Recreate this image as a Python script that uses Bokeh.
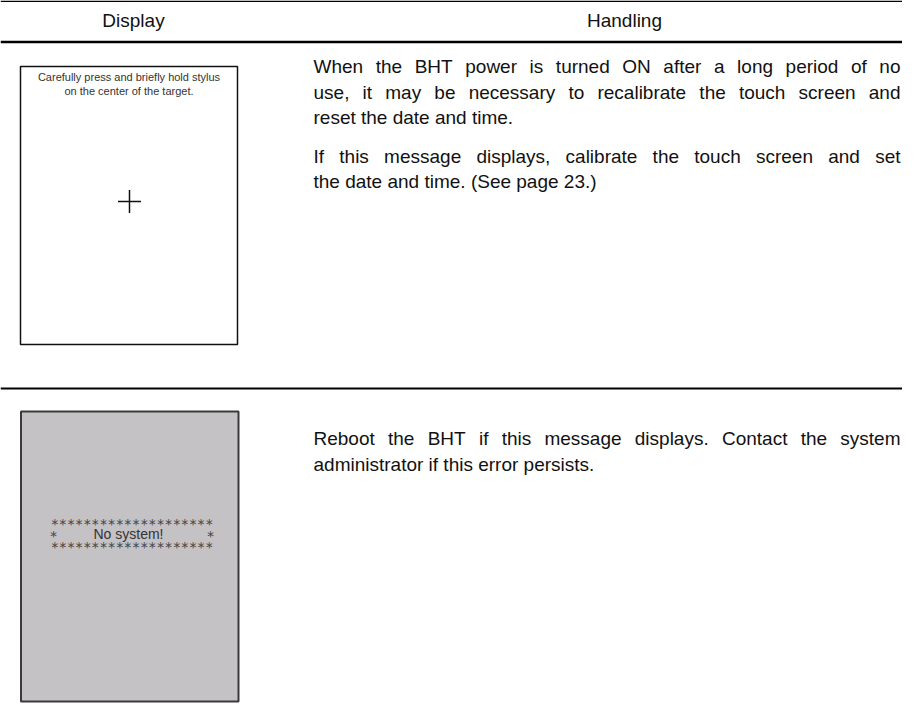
from bokeh.plotting import figure
from bokeh.models import Range1d
from bokeh.core.properties import value
from bokeh.embed import file_html
from bokeh.resources import INLINE

# ---- content ----
headers = ["Display", "Handling"]
para_row1 = [
    ["When the BHT power is turned ON after a long period of no",
     "use, it may be necessary to recalibrate the touch screen and",
     "reset the date and time."],
    ["If this message displays, calibrate the touch screen and set",
     "the date and time. (See page 23.)"],
]
para_row2 = [
    ["Reboot the BHT if this message displays. Contact the system",
     "administrator if this error persists."],
]
screen1_lines = ["Carefully press and briefly hold stylus",
                 "on the center of the target."]
stars_row = "*" * 20
screen2_msg = "No system!"

# ---- layout (picture pixel coordinates) ----
BODY_FONT = "Liberation Sans"
BODY_SIZE = 19
LEFT, RIGHT = 313, 900
LINE_H = 25.5
PARA_GAP = 13

# Arial / Liberation Sans advance widths (1/1000 em)
W = {' ': 278, '!': 278, '(': 333, ')': 333, ',': 278, '.': 278, '?': 556,
     'A': 667, 'B': 667, 'C': 722, 'D': 722, 'E': 667, 'F': 611, 'G': 778, 'H': 722,
     'I': 278, 'J': 500, 'K': 667, 'L': 556, 'M': 833, 'N': 722, 'O': 778, 'P': 667,
     'Q': 778, 'R': 722, 'S': 667, 'T': 611, 'U': 722, 'V': 667, 'W': 944, 'X': 667,
     'Y': 667, 'Z': 611,
     'a': 556, 'b': 556, 'c': 500, 'd': 556, 'e': 556, 'f': 278, 'g': 556, 'h': 556,
     'i': 222, 'j': 222, 'k': 500, 'l': 222, 'm': 833, 'n': 556, 'o': 556, 'p': 556,
     'q': 556, 'r': 333, 's': 500, 't': 278, 'u': 556, 'v': 500, 'w': 722, 'x': 500,
     'y': 500, 'z': 500}
for d in "0123456789":
    W[d] = 556


def tw(s, size):
    return sum(W.get(c, 556) for c in s) * size / 1000.0


def layout_paragraphs(paras, y0, xs, ys, ws):
    y = y0
    for para in paras:
        for i, line in enumerate(para):
            words = line.split(" ")
            last = (i == len(para) - 1)
            widths = [tw(w, BODY_SIZE) for w in words]
            if last or len(words) == 1:
                gap = tw(" ", BODY_SIZE)
            else:
                gap = (RIGHT - LEFT - sum(widths)) / (len(words) - 1)
            x = LEFT
            for w, wd in zip(words, widths):
                xs.append(x); ys.append(y); ws.append(w)
                x += wd + gap
            y += LINE_H
        y += PARA_GAP
    return y


p = figure(width=902, height=708, x_range=Range1d(0, 902), y_range=Range1d(708, 0),
           output_backend="svg", toolbar_location=None, min_border=0,
           background_fill_color="white", border_fill_color="white")
p.axis.visible = False
p.grid.visible = False
p.outline_line_color = None

# rules
p.segment(x0=[0], y0=[0.8], x1=[902], y1=[0.8], line_color="black", line_width=1.5)
p.segment(x0=[0], y0=[41.5], x1=[902], y1=[41.5], line_color="black", line_width=2.5)
p.segment(x0=[0], y0=[388], x1=[902], y1=[388], line_color="black", line_width=2)

# headers
p.text(x=[133, 624], y=[20, 20], text=headers, text_font=value(BODY_FONT),
       text_font_size=f"{BODY_SIZE}px", text_align="center",
       text_baseline="middle", text_color="#111111")

# body text
xs, ys, ws = [], [], []
layout_paragraphs(para_row1, 66, xs, ys, ws)
layout_paragraphs(para_row2, 438, xs, ys, ws)
p.text(x=xs, y=ys, text=ws, text_font=value(BODY_FONT),
       text_font_size=f"{BODY_SIZE}px", text_align="left",
       text_baseline="middle", text_color="#111111")

# screen 1
p.quad(left=[20], right=[237], top=[66], bottom=[344], fill_color="white",
       line_color="#111111", line_width=1.5)
p.text(x=[128.5, 128.5], y=[76, 90], text=screen1_lines,
       text_font=value("Liberation Sans"), text_font_size="11px",
       text_align="center", text_baseline="middle", text_color="#333333")
cx, cy, arm = 129, 201, 11.5
p.segment(x0=[cx - arm, cx], y0=[cy, cy - arm], x1=[cx + arm, cx], y1=[cy, cy + arm],
          line_color="#111111", line_width=1.5)

# screen 2
p.quad(left=[20.5], right=[238], top=[411], bottom=[701], fill_color="#c4c2c5",
       line_color="#3a3a3a", line_width=2)
p.text(x=[131.5, 131.5], y=[523, 546], text=[stars_row, stars_row],
       text_font=value("DejaVu Sans Mono"), text_font_size="13.5px",
       text_align="center", text_baseline="middle", text_color="#444444")
p.text(x=[53, 210], y=[535, 535], text=["*", "*"],
       text_font=value("DejaVu Sans Mono"), text_font_size="13.5px",
       text_align="center", text_baseline="middle", text_color="#444444")
p.text(x=[128], y=[533], text=[screen2_msg],
       text_font=value("Liberation Sans"), text_font_size="14px",
       text_align="center", text_baseline="middle", text_color="#333333")

open("out.html", "w").write(file_html(p, INLINE))
